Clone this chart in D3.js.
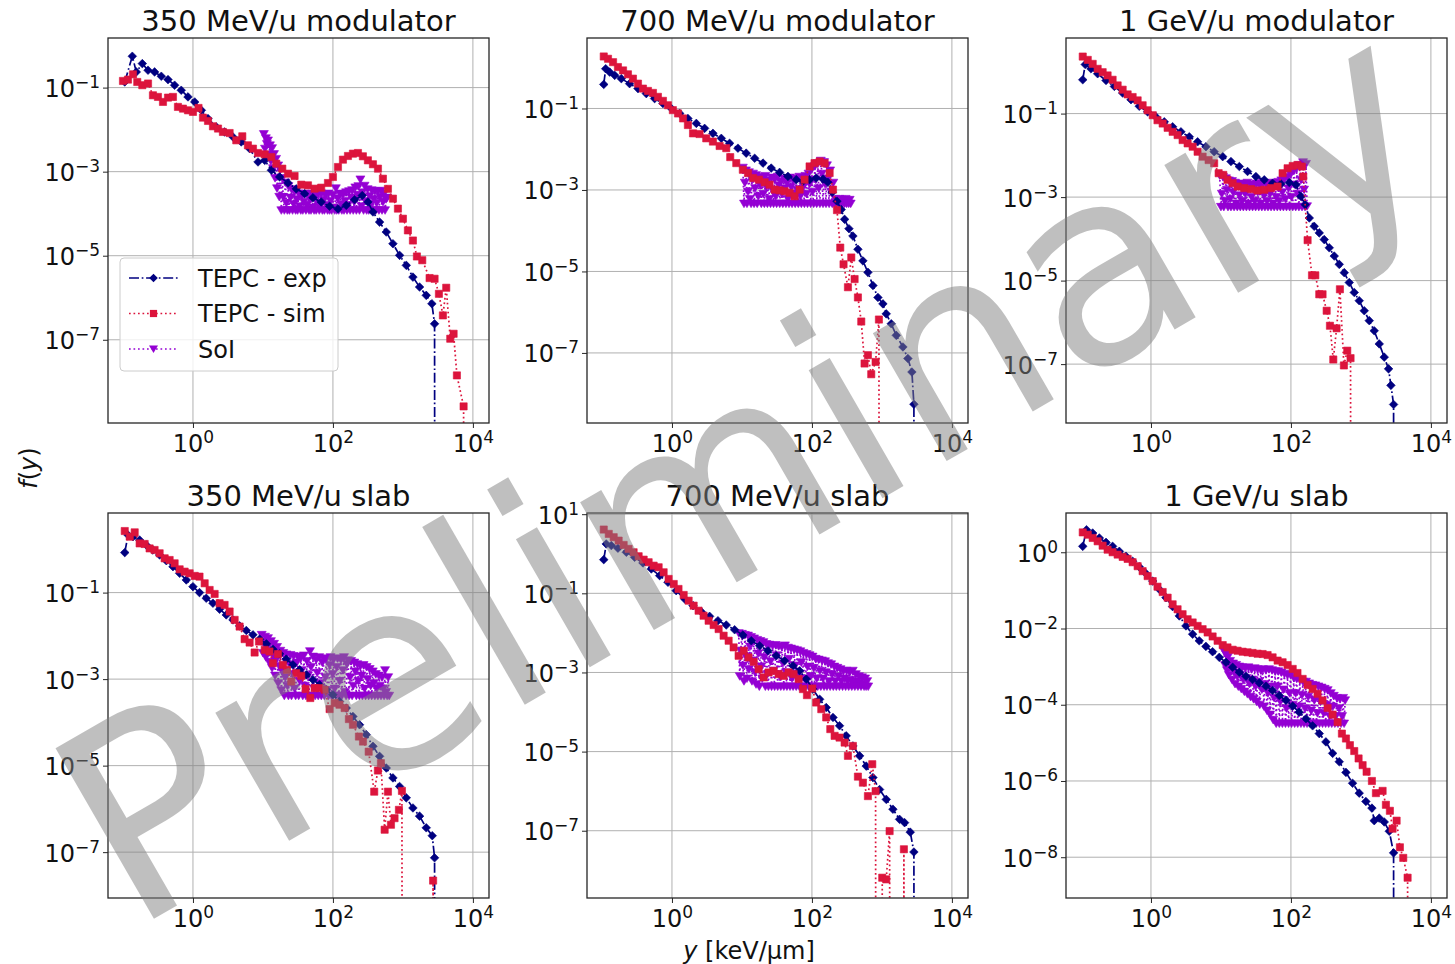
<!DOCTYPE html>
<html>
<head>
<meta charset="utf-8">
<script src="https://cdn.jsdelivr.net/npm/d3@7"></script>
<style>
body { margin: 0; background: #fff; }
text { font-family: "DejaVu Sans", sans-serif; }
</style>
</head>
<body>
<svg id="fig" width="1455" height="964"></svg>
<script>
// panel titles, legend names, ticks
var titles = ["350 MeV/u modulator", "700 MeV/u modulator", "1 GeV/u modulator",
              "350 MeV/u slab", "700 MeV/u slab", "1 GeV/u slab"];
var seriesNames = ["TEPC - exp", "TEPC - sim", "SoI"];
var xTickExp = [0, 2, 4];
var yTickExp = [[-7,-5,-3,-1], [-7,-5,-3,-1], [-7,-5,-3,-1], [-7,-5,-3,-1], [-7,-5,-3,-1,1], [-8,-6,-4,-2,0]];
var xLimExp = [-1.214, 4.23];
var yLimExp = [[-8.98,0.18], [-8.72,0.73], [-8.41,0.81], [-8.06,0.84], [-8.7,1.03], [-9.07,1.03]];

// TEPC measured spectra [y (keV/um), f(y)]
var exp350mod = [[0.106,0.136],[0.136,0.557],[0.155,0.236],[0.189,0.372],[0.228,0.259],[0.283,0.236],[0.353,0.186],[0.44,0.155],[0.547,0.114],[0.68,0.0865],[0.849,0.06],[1.06,0.0456],[1.32,0.0288],[1.64,0.0183],[2.15,0.0116],[2.83,0.0088],[3.73,0.0067],[4.9,0.0051],[6.45,0.00353],[8.5,0.0017],[10.6,0.00186],[13.2,0.00108],[17.3,7.5e-4],[22.8,5.4e-4],[29.9,3.9e-4],[39.4,3.0e-4],[51.8,2.4e-4],[68,1.9e-4],[89.6,1.5e-4],[118,1.3e-4],[155,1.58e-4],[204,2.15e-4],[262,2.7e-4],[316,1.9e-4],[373,1.1e-4],[464,6.3e-5],[578,3.66e-5],[720,1.93e-5],[896,1.02e-5],[1117,5.9e-6],[1390,3.1e-6],[1730,1.8e-6],[2154,1.14e-6],[2594,7.2e-7],[2833,2.4e-7],[2900,0]];
var exp700mod = [[0.106,0.39],[0.113,0.946],[0.129,0.78],[0.152,0.65],[0.189,0.54],[0.248,0.407],[0.327,0.308],[0.43,0.232],[0.565,0.175],[0.743,0.132],[0.98,0.1],[1.29,0.0755],[1.69,0.057],[2.23,0.043],[2.93,0.0325],[3.85,0.0245],[5.07,0.0185],[6.66,0.014],[8.77,0.0106],[11.5,0.008],[15.2,0.006],[20,0.00456],[26.2,0.00344],[34.5,0.0027],[45.4,0.00215],[59.7,0.00179],[74.4,0.00163],[92.6,0.00179],[115,0.00196],[144,0.00185],[169,0.00154],[195,8.8e-4],[228,5.3e-4],[262,3.3e-4],[293,1.9e-4],[338,1.12e-4],[385,7.4e-5],[454,3.5e-5],[535,1.82e-5],[631,9.5e-6],[744,4.5e-6],[877,2.3e-6],[1033,1.6e-6],[1153,9.1e-7],[1359,5.2e-7],[1603,2.7e-7],[1995,1.4e-7],[2350,7.3e-8],[2683,3.4e-8],[2864,5.5e-9],[2950,0]];
var exp1gmod = [[0.106,0.645],[0.115,1.5],[0.139,1.18],[0.173,0.9],[0.228,0.62],[0.3,0.448],[0.394,0.31],[0.518,0.215],[0.68,0.15],[0.896,0.11],[1.18,0.0833],[1.55,0.0634],[2.04,0.0482],[2.68,0.0366],[3.53,0.0278],[4.64,0.0211],[6.1,0.0161],[8.0,0.0122],[10.6,0.0093],[13.9,0.0071],[18.3,0.0054],[24,0.0041],[31.6,0.0031],[41.6,0.00259],[54.7,0.00215],[72,0.00207],[94.7,0.00223],[118,0.00197],[139,0.00104],[160,6.6e-4],[183,3.16e-4],[215,2.0e-4],[254,1.39e-4],[299,9.6e-5],[353,6.1e-5],[416,3.87e-5],[490,2.45e-5],[578,1.55e-5],[681,9.0e-6],[803,5.2e-6],[946,3.3e-6],[1116,1.9e-6],[1315,1.1e-6],[1549,6.3e-7],[1828,3.05e-7],[2154,1.47e-7],[2483,7.7e-8],[2683,3.1e-8],[2929,1.08e-8],[3000,0]];
var exp350slab = [[0.106,0.84],[0.118,2.14],[0.139,1.96],[0.173,1.64],[0.215,1.26],[0.268,0.966],[0.334,0.74],[0.416,0.547],[0.518,0.398],[0.645,0.279],[0.803,0.196],[1.0,0.137],[1.24,0.1],[1.55,0.074],[1.93,0.0568],[2.4,0.0412],[2.99,0.0305],[3.73,0.0234],[4.64,0.017],[5.78,0.0133],[7.2,0.01055],[8.96,0.0084],[11.2,0.00653],[13.9,0.00492],[17.3,0.00385],[21.5,0.0029],[26.8,0.00214],[33.4,0.00164],[41.6,0.00126],[51.8,9.7e-4],[64.5,7.4e-4],[80.4,5.7e-4],[100,4.35e-4],[124,3.05e-4],[155,2.14e-4],[193,1.37e-4],[240,8.8e-5],[299,5.2e-5],[373,2.8e-5],[464,1.64e-5],[578,8.8e-6],[720,5.2e-6],[896,3.3e-6],[1117,1.8e-6],[1390,1.05e-6],[1730,6.8e-7],[2154,3.65e-7],[2624,2.4e-7],[2833,7.4e-8],[2950,0]];
var exp700slab = [[0.106,0.71],[0.115,1.77],[0.136,1.61],[0.169,1.38],[0.223,1.09],[0.293,0.815],[0.385,0.586],[0.507,0.413],[0.667,0.28],[0.877,0.19],[1.15,0.117],[1.52,0.072],[2.0,0.0488],[2.62,0.0344],[3.45,0.0262],[4.54,0.0203],[5.97,0.0158],[7.86,0.012],[10.3,0.0088],[13.6,0.00634],[17.9,0.00473],[23.5,0.00354],[30.9,0.00264],[40.7,0.00197],[53.5,0.00148],[66.7,0.0011],[83,6.8e-4],[103,3.8e-4],[129,2.1e-4],[160,1.3e-4],[200,7.3e-5],[248,4.5e-5],[309,2.5e-5],[385,1.39e-5],[480,7.8e-6],[597,4.3e-6],[744,2.2e-6],[926,1.1e-6],[1153,6.2e-7],[1436,3.5e-7],[1786,1.94e-7],[2108,1.6e-7],[2541,9.2e-8],[2864,2.9e-8],[2950,0]];
var exp1gslab = [[0.106,1.43],[0.12,3.9],[0.147,3.19],[0.183,2.37],[0.228,1.82],[0.283,1.43],[0.353,1.06],[0.44,0.787],[0.547,0.582],[0.68,0.414],[0.849,0.277],[1.06,0.175],[1.32,0.106],[1.64,0.0644],[2.04,0.0375],[2.54,0.0214],[3.16,0.0117],[3.94,0.0071],[4.9,0.00476],[6.1,0.00339],[7.6,0.00246],[9.47,0.00175],[11.8,0.0013],[14.7,9.6e-4],[18.3,7.1e-4],[22.8,5.6e-4],[28.3,4.58e-4],[35.3,3.75e-4],[44,3.07e-4],[54.7,2.37e-4],[68,1.75e-4],[84.9,1.3e-4],[106,9.2e-5],[131,6.4e-5],[164,4.3e-5],[204,2.8e-5],[254,1.75e-5],[316,1.06e-5],[394,5.3e-6],[490,3.2e-6],[611,1.68e-6],[760,8.7e-7],[946,4.8e-7],[1178,2.9e-7],[1436,1.94e-7],[1549,9.1e-8],[1828,1.06e-7],[2154,8.4e-8],[2541,4.8e-8],[2929,1.3e-8],[3000,0]];

// TEPC simulated spectra
var sim350mod = [[0.1,0.144],[0.118,0.155],[0.139,0.207],[0.16,0.136],[0.189,0.114],[0.228,0.125],[0.268,0.0656],[0.316,0.06],[0.373,0.0456],[0.44,0.0578],[0.518,0.06],[0.61,0.0347],[0.72,0.0316],[0.849,0.0288],[1.0,0.0264],[1.2,0.0328],[1.39,0.0193],[1.64,0.0161],[1.93,0.012],[2.28,0.0106],[2.68,0.0088],[3.34,0.0083],[4.16,0.00557],[5.07,0.00694],[6.1,0.00424],[7.2,0.00353],[8.5,0.00278],[10.6,0.00259],[13.2,0.00223],[15.5,0.00155],[18.9,0.00118],[22.8,8.95e-4],[28.3,7.9e-4],[35.3,4.9e-4],[44,4.73e-4],[54.7,3.94e-4],[68,4.16e-4],[84.9,5.37e-4],[100,7.46e-4],[118,0.00129],[139,0.00193],[164,0.00236],[193,0.00268],[228,0.00278],[268,0.00232],[316,0.00186],[373,0.0015],[440,0.00118],[518,6.8e-4],[611,3.9e-4],[720,2.28e-4],[849,1.32e-4],[1000,7.6e-5],[1178,4.0e-5],[1390,2.3e-5],[1585,9.6e-6],[1890,7.8e-6],[2404,2.94e-6],[2833,2.83e-6],[3269,1.24e-6],[3727,3.8e-7],[4159,1.73e-6],[4747,1.06e-7],[5297,1.39e-7],[5907,1.42e-8],[7362,2.6e-9],[7700,0]];
var sim700mod = [[0.106,1.89],[0.122,1.66],[0.144,1.37],[0.169,1.04],[0.2,0.86],[0.235,0.69],[0.277,0.54],[0.327,0.407],[0.385,0.308],[0.454,0.27],[0.535,0.241],[0.63,0.193],[0.743,0.154],[0.877,0.12],[1.03,0.091],[1.22,0.0755],[1.44,0.057],[1.69,0.0392],[2.0,0.0245],[2.48,0.0236],[3.09,0.0185],[3.85,0.0154],[4.8,0.012],[5.97,0.0106],[6.8,0.0064],[8.3,0.00456],[10.3,0.00313],[12.2,0.0026],[14.4,0.00196],[17.5,0.00179],[21.1,0.00154],[24.8,0.00135],[29.3,0.00102],[34.5,9.8e-4],[40.7,9.3e-4],[48,8.5e-4],[56.5,7.0e-4],[66.7,0.00102],[78.5,0.00179],[92.6,0.00378],[109,0.00456],[129,0.005],[152,0.00456],[179,0.0026],[200,0.00102],[228,3.2e-4],[254,3.85e-5],[283,1.5e-5],[327,4.1e-6],[365,2.2e-5],[407,6.5e-6],[454,2.3e-6],[507,5.9e-7],[565,5.5e-8],[631,8.8e-8],[704,3.0e-8],[812,6.0e-8],[906,6.6e-7],[933,0]];
var sim1gmod = [[0.106,2.32],[0.125,1.93],[0.147,1.55],[0.173,1.18],[0.204,0.98],[0.24,0.82],[0.283,0.645],[0.334,0.473],[0.394,0.373],[0.464,0.288],[0.547,0.249],[0.645,0.207],[0.76,0.158],[0.896,0.12],[1.06,0.0913],[1.24,0.0693],[1.47,0.0578],[1.73,0.0456],[2.04,0.0366],[2.4,0.0305],[2.83,0.0232],[3.34,0.0193],[3.94,0.0161],[4.64,0.0122],[5.47,0.0093],[6.66,0.0077],[8.0,0.00645],[9.27,0.00373],[10.8,0.0034],[12.4,0.00259],[14.7,0.00215],[17.3,0.00179],[21.5,0.00164],[26.8,0.00155],[33.4,0.00144],[41.6,0.0015],[51.8,0.00164],[64.5,0.00179],[76,0.00373],[89.6,0.0049],[106,0.00557],[124,0.00589],[144,0.0054],[150,0.0031],[173,9.3e-5],[200,1.34e-5],[223,1.34e-5],[254,4.7e-6],[283,4.7e-6],[324,1.9e-6],[361,8.3e-7],[403,1.29e-7],[449,7.2e-7],[501,6.2e-6],[571,9.3e-8],[638,2.1e-7],[711,1.39e-7],[730,0]];
var sim350slab = [[0.106,2.65],[0.125,1.96],[0.147,2.47],[0.173,1.37],[0.204,1.33],[0.24,1.05],[0.283,0.966],[0.334,0.81],[0.394,0.62],[0.464,0.567],[0.547,0.475],[0.645,0.345],[0.76,0.305],[0.896,0.279],[1.06,0.243],[1.24,0.234],[1.47,0.164],[1.73,0.115],[2.04,0.093],[2.4,0.0568],[2.83,0.0519],[3.34,0.0365],[3.94,0.0234],[4.64,0.0164],[5.47,0.0084],[6.45,0.007],[7.6,0.00412],[8.77,0.0074],[10.6,0.00475],[12.4,0.00435],[13.9,0.00234],[16.4,0.00378],[19.3,0.00214],[22,0.00164],[25.4,8.8e-4],[29.9,0.00137],[35.3,0.00119],[40.7,5.9e-4],[47.5,3.65e-4],[54.7,6.2e-4],[64.5,6.2e-4],[76,5.7e-4],[89.6,2.03e-4],[106,2.8e-4],[124,2.56e-4],[147,2.14e-4],[169,1.19e-4],[193,8.8e-5],[235,4.7e-5],[269,3.6e-5],[324,2.1e-5],[389,2.5e-6],[439,7.7e-6],[485,1.14e-5],[548,3.3e-7],[611,2.5e-6],[675,4.3e-7],[759,6.1e-7],[877,9.5e-7],[968,2.6e-6],[1000,0],[2600,0],[2700,2.2e-8],[2800,0]];
var sim700slab = [[0.106,4.09],[0.125,3.18],[0.147,2.62],[0.173,2.15],[0.204,1.67],[0.24,1.33],[0.283,1.09],[0.334,0.865],[0.394,0.71],[0.464,0.61],[0.547,0.5],[0.645,0.455],[0.76,0.34],[0.896,0.231],[1.06,0.172],[1.24,0.129],[1.47,0.0908],[1.73,0.0652],[2.04,0.0488],[2.4,0.0364],[2.83,0.0272],[3.34,0.0203],[3.94,0.0158],[4.64,0.0125],[5.47,0.0085],[6.45,0.00634],[7.6,0.0043],[8.96,0.00264],[10.6,0.00354],[12.4,0.0024],[14.7,0.00186],[17.3,0.00121],[20.4,7.5e-4],[24,0.001],[28.3,0.0011],[33.4,9.1e-4],[39.4,8.2e-4],[46.4,0.001],[54.7,9.1e-4],[64.5,6.8e-4],[74.4,3.8e-4],[84.9,2.67e-4],[101,3.93e-4],[115,1.74e-4],[136,1.18e-4],[160,7.3e-5],[183,3.7e-5],[211,2.5e-5],[248,2.26e-5],[293,1.69e-5],[327,7.8e-6],[385,1.39e-5],[454,2.33e-6],[535,1.64e-6],[631,7.5e-7],[728,4.8e-6],[812,1.0e-6],[830,0],[990,0],[1011,6.5e-9],[1153,5.9e-9],[1288,9.8e-8],[1330,0],[2000,0],[2061,3.4e-8],[2150,0]];
var sim1gslab = [[0.106,3.32],[0.125,2.89],[0.147,2.37],[0.173,1.94],[0.204,1.49],[0.24,1.17],[0.283,1.0],[0.334,0.869],[0.394,0.755],[0.464,0.67],[0.547,0.548],[0.645,0.431],[0.76,0.319],[0.896,0.237],[1.06,0.175],[1.24,0.125],[1.47,0.0905],[1.73,0.0644],[2.04,0.0431],[2.4,0.0319],[2.83,0.0237],[3.34,0.0175],[3.94,0.0144],[4.64,0.0117],[5.47,0.0096],[6.45,0.00787],[7.6,0.00618],[8.96,0.00476],[10.6,0.00367],[12.4,0.00319],[14.7,0.00277],[17.3,0.00261],[20.4,0.00246],[24,0.00237],[28.3,0.00228],[33.4,0.00218],[39.4,0.00214],[46.4,0.00201],[54.7,0.00175],[64.5,0.00144],[76,0.0013],[89.6,0.0011],[106,8.7e-4],[124,6.8e-4],[147,4.76e-4],[173,3.3e-4],[204,2.6e-4],[240,1.94e-4],[283,1.3e-4],[334,8.2e-5],[394,5.5e-5],[464,3.5e-5],[535,1.75e-5],[611,1.3e-5],[696,8.7e-6],[803,6.1e-6],[926,3.9e-6],[1057,2.6e-6],[1205,1.75e-6],[1436,1.0e-6],[1638,4.8e-7],[2040,5.5e-7],[2275,2.37e-7],[2594,1.65e-7],[2833,5.6e-8],[3236,9.1e-8],[3606,1.82e-8],[4027,9.6e-9],[4645,2.9e-9],[4800,0]];

// SoI bins (keV/um) and f(y) per bin, null = no entry
var soiBins = [9,9.3,9.6,10,10.3,10.7,11,11.4,11.8,12.2,
  12.6,13,13.5,13.9,14.4,14.9,15.4,15.9,16.5,17.1,
  17.7,18.3,18.9,19.5,20.2,20.9,21.6,22.3,23.1,23.9,
  24.7,25.6,26.5,27.4,28.3,29.3,30.3,31.3,32.4,33.5,
  34.7,35.9,37.1,38.4,39.7,41.1,42.5,43.9,45.5,47,
  48.6,50.3,52,53.8,55.7,57.6,59.6,61.6,63.8,66,
  68.2,70.6,73,75.5,78.1,80.8,83.6,86.4,89.4,92.5,
  95.7,99,102,106,110,113,117,121,125,130,
  134,139,144,149,154,159,164,170,176,182,
  188,195,202,209,216,223,231,239,247,256,
  264,274,283,293,303,313,324,335,346,358,
  371,383,397,410,424,439,454,470,486,503,
  520,538,556,575,595,616,637];
var soi350mod = [null,null,null,null,0.0078,0.0035,0.0062,0.0045,0.0055,0.0025,
  0.0042,0.0018,0.0036,0.0012,0.0026,7e-4,0.002,4e-4,0.0014,2.5e-4,
  0.0011,1.2e-4,7e-4,2.5e-4,1.2e-4,5.5e-4,1.8e-4,1.2e-4,4.5e-4,1.2e-4,
  2.4e-4,3.8e-4,1.2e-4,1.7e-4,3.3e-4,1.2e-4,2.2e-4,1.2e-4,3e-4,1.5e-4,
  1.2e-4,2.6e-4,1.2e-4,1.9e-4,3e-4,1.2e-4,1.6e-4,2.8e-4,1.2e-4,2.2e-4,
  1.2e-4,3e-4,1.4e-4,1.2e-4,2.5e-4,1.2e-4,1.8e-4,2.9e-4,1.2e-4,1.5e-4,
  3e-4,1.2e-4,2.1e-4,1.2e-4,2.7e-4,1.6e-4,1.2e-4,3e-4,1.2e-4,2e-4,
  1.2e-4,2.8e-4,1.4e-4,1.2e-4,4e-4,1.2e-4,2.3e-4,1.2e-4,3e-4,1.7e-4,
  1.2e-4,2.8e-4,1.2e-4,2e-4,3.2e-4,1.2e-4,1.6e-4,3.4e-4,1.2e-4,2.4e-4,
  3.6e-4,1.2e-4,1.9e-4,4.2e-4,1.2e-4,2.8e-4,4.5e-4,1.2e-4,6.5e-4,1.5e-4,
  3.2e-4,1.2e-4,4.6e-4,2e-4,1.2e-4,3.8e-4,1.2e-4,2.6e-4,1.6e-4,3.6e-4,
  1.2e-4,2.2e-4,3.4e-4,1.2e-4,1.8e-4,3.4e-4,1.2e-4,2.5e-4,3.5e-4,1.2e-4,
  1.9e-4,3e-4,1.2e-4,2.2e-4,2.4e-4,null,null];
var soi700mod = [null,null,null,null,0.0035,4.6e-4,0.0015,0.003,4.6e-4,9e-4,
  0.0027,6e-4,4.6e-4,0.0018,0.0025,4.6e-4,0.0011,0.0023,4.6e-4,7e-4,
  0.0021,0.0013,4.6e-4,0.0019,8e-4,4.6e-4,0.0022,0.0012,4.6e-4,0.0017,
  6e-4,4.6e-4,0.002,0.001,4.6e-4,0.0018,7e-4,4.6e-4,0.0021,0.0013,
  4.6e-4,0.0016,8e-4,4.6e-4,0.0019,0.0011,4.6e-4,0.0015,6e-4,4.6e-4,
  0.002,0.0012,4.6e-4,0.0017,8e-4,4.6e-4,0.0019,0.001,4.6e-4,0.0021,
  7e-4,4.6e-4,0.0019,0.0012,4.6e-4,0.0022,8e-4,4.6e-4,0.0025,0.0014,
  4.6e-4,0.0032,9e-4,4.6e-4,0.0038,0.0018,4.6e-4,0.0045,0.0011,4.6e-4,
  0.0052,0.0025,4.6e-4,0.0048,0.0014,4.6e-4,0.004,0.0019,4.6e-4,0.003,
  9e-4,4.6e-4,0.0015,4.6e-4,6e-4,4.6e-4,5.5e-4,4.6e-4,6e-4,4.6e-4,
  5.8e-4,4.6e-4,5.5e-4,4.6e-4,6e-4,4.6e-4,5.5e-4,4.6e-4,5.7e-4,4.6e-4,
  null,null,null,null,null,null,null,null,null,null,
  null,null,null,null,null,null,null];
var soi1gmod = [null,null,0.0033,5.8e-4,0.0012,0.003,5.8e-4,8e-4,0.0028,0.0015,
  5.8e-4,0.0025,9e-4,5.8e-4,0.0024,0.0013,5.8e-4,0.0022,7e-4,5.8e-4,
  0.002,0.0011,5.8e-4,0.0021,8e-4,5.8e-4,0.0019,0.0012,5.8e-4,0.0022,
  7e-4,5.8e-4,0.002,0.001,5.8e-4,0.0018,8e-4,5.8e-4,0.0021,0.0013,
  5.8e-4,0.0019,7e-4,5.8e-4,0.0022,0.0011,5.8e-4,0.002,8e-4,5.8e-4,
  0.0019,0.0012,5.8e-4,0.0022,7e-4,5.8e-4,0.0021,0.001,5.8e-4,0.0023,
  8e-4,5.8e-4,0.0025,0.0013,5.8e-4,0.0027,9e-4,5.8e-4,0.003,0.0016,
  5.8e-4,0.0035,0.001,5.8e-4,0.0042,0.002,5.8e-4,0.005,0.0012,5.8e-4,
  0.0058,0.0026,5.8e-4,0.0068,0.0015,5.8e-4,0.0062,6e-4,null,null,
  null,null,null,null,null,null,null,null,null,null,
  null,null,null,null,null,null,null,null,null,null,
  null,null,null,null,null,null,null,null,null,null,
  null,null,null,null,null,null,null];
var soi350slab = [null,null,0.0105,0.004,0.0068,0.0095,0.0032,0.0055,0.0088,0.0025,
  0.0045,0.0075,0.0018,0.0035,0.0065,0.0012,0.0028,0.0055,8e-4,0.002,
  0.0045,5.5e-4,0.0015,0.004,4.1e-4,0.0011,0.0037,7e-4,4.1e-4,0.0022,
  0.0036,4.1e-4,0.0013,0.0034,6e-4,4.1e-4,0.0024,0.0033,4.1e-4,9e-4,
  0.003,0.0016,4.1e-4,0.0035,7e-4,4.1e-4,0.0026,0.0012,4.1e-4,0.0044,
  0.0019,4.1e-4,0.0033,6e-4,4.1e-4,0.0028,0.0014,4.1e-4,0.0032,8e-4,
  4.1e-4,0.0024,0.003,4.1e-4,0.0011,0.0029,5.5e-4,4.1e-4,0.0021,0.0032,
  4.1e-4,0.0013,0.0028,6e-4,4.1e-4,0.0019,0.003,4.1e-4,9e-4,0.0028,
  4.1e-4,0.0016,0.0032,5e-4,4.1e-4,0.0022,0.0027,4.1e-4,0.0011,0.0026,
  4.1e-4,7e-4,0.0024,0.0015,4.1e-4,0.0022,9e-4,4.1e-4,0.002,0.0012,
  4.1e-4,0.0021,6e-4,4.1e-4,0.0019,0.001,4.1e-4,0.0017,7e-4,4.1e-4,
  0.0015,8e-4,4.1e-4,0.0013,6e-4,4.1e-4,0.0012,7e-4,4.1e-4,0.0011,
  6e-4,4.1e-4,0.0016,5e-4,4.1e-4,0.0011,4.1e-4];
var soi700slab = [0.0098,8e-4,0.0035,0.0094,0.0015,6e-4,0.0088,0.0025,7e-4,0.0085,
  0.0012,0.0045,0.0078,6e-4,0.002,0.0072,0.001,5e-4,0.0066,0.003,
  4.4e-4,0.0062,0.0014,7e-4,0.0058,0.0024,4.4e-4,0.0052,9e-4,4.4e-4,
  0.005,0.0019,4.4e-4,0.0047,0.0011,4.4e-4,0.0049,0.0027,4.4e-4,0.0046,
  8e-4,4.4e-4,0.0044,0.0017,4.4e-4,0.0048,0.001,4.4e-4,0.0042,0.0022,
  4.4e-4,0.004,7e-4,4.4e-4,0.0038,0.0015,4.4e-4,0.0036,9e-4,4.4e-4,
  0.0034,0.0018,4.4e-4,0.0031,7e-4,4.4e-4,0.0029,0.0014,4.4e-4,0.0027,
  8e-4,4.4e-4,0.0025,0.0013,4.4e-4,0.0022,7e-4,4.4e-4,0.0021,0.0011,
  4.4e-4,0.002,7e-4,4.4e-4,0.0019,0.001,4.4e-4,0.0017,6e-4,4.4e-4,
  0.0016,9e-4,4.4e-4,0.0014,6e-4,4.4e-4,0.0013,8e-4,4.4e-4,0.0012,
  6e-4,4.4e-4,0.0011,7e-4,4.4e-4,0.0011,6e-4,4.4e-4,0.001,6.5e-4,
  4.4e-4,0.0011,5.5e-4,4.4e-4,9e-4,6e-4,4.4e-4,8e-4,5.5e-4,4.4e-4,
  7.5e-4,5e-4,4.4e-4,7e-4,4.4e-4,6e-4,4.4e-4];
var soi1gslab = [null,null,null,null,null,null,0.0026,0.0011,0.0021,8e-4,
  0.0018,6e-4,0.0014,0.001,4.5e-4,0.0012,7e-4,3.5e-4,0.0011,5.5e-4,
  3e-4,0.001,6e-4,2.6e-4,9.5e-4,4.5e-4,2.2e-4,9e-4,5e-4,1.9e-4,
  9.5e-4,3.5e-4,1.6e-4,8.5e-4,4.5e-4,1.4e-4,9e-4,3e-4,1.2e-4,8.5e-4,
  4e-4,1e-4,8e-4,2.5e-4,8.5e-4,9e-5,3.5e-4,8e-4,7e-5,2e-4,
  8.5e-4,5.5e-5,3e-4,8e-4,4e-5,1.5e-4,7.5e-4,3.2e-5,3e-4,7.5e-4,
  3.2e-5,1.2e-4,7e-4,3.2e-5,2.5e-4,6.5e-4,3.2e-5,8e-5,6e-4,3.2e-5,
  2e-4,6e-4,3.2e-5,1e-4,5e-4,3.2e-5,2e-4,4.8e-4,3.2e-5,9e-5,
  4.5e-4,3.2e-5,1.8e-4,4e-4,3.2e-5,8e-5,4e-4,3.2e-5,1.6e-4,3.6e-4,
  3.2e-5,7e-5,3.3e-4,3.2e-5,1.3e-4,3.2e-4,3.2e-5,6e-5,3e-4,3.2e-5,
  1.2e-4,2.8e-4,3.2e-5,6e-5,2.6e-4,3.2e-5,1e-4,2.4e-4,3.2e-5,5e-5,
  2e-4,3.2e-5,9e-5,1.7e-4,3.2e-5,5e-5,1.5e-4,3.2e-5,8e-5,1.4e-4,
  3.2e-5,5e-5,1.5e-4,3.2e-5,1.3e-4,null,null];

var expData = [exp350mod, exp700mod, exp1gmod, exp350slab, exp700slab, exp1gslab];
var simData = [sim350mod, sim700mod, sim1gmod, sim350slab, sim700slab, sim1gslab];
var soiData = [soi350mod, soi700mod, soi1gmod, soi350slab, soi700slab, soi1gslab];

// layout
var colLeft = [108, 587, 1066], rowTop = [38, 513];
var pw = 381, ph = 385;
var lw = 1.7;

var styles = [
  {color: "#000080", dash: "10,2.7,1.7,2.7", shape: "M0,-4.3L4.3,0L0,4.3L-4.3,0Z"},
  {color: "#DC143C", dash: "1.7,2.8", shape: "M-3.6,-3.6L3.6,-3.6L3.6,3.6L-3.6,3.6Z"},
  {color: "#9400D3", dash: "1.7,2.8", shape: "M-4.5,-3.6L4.5,-3.6L0,4Z"}
];

var svg = d3.select("#fig");

var x = d3.scaleLog().domain(xLimExp.map(function(e){ return Math.pow(10, e); })).range([0, pw]);

function supLabel(sel, e) {
  sel.text("10");
  sel.append("tspan").attr("dy", -9).attr("font-size", 17).text(e < 0 ? "\u2212" + (-e) : String(e));
}

function drawSeries(g, pts, st, y) {
  var yv = function(v){ return v > 0 ? v : 1e-30; };
  var line = d3.line().x(function(d){ return x(d[0]); }).y(function(d){ return y(yv(d[1])); });
  g.append("path").datum(pts)
    .attr("d", line)
    .attr("fill", "none")
    .attr("stroke", st.color)
    .attr("stroke-width", lw)
    .attr("stroke-dasharray", st.dash);
  g.selectAll(null).data(pts.filter(function(d){ return d[1] > 0; })).join("path")
    .attr("d", st.shape)
    .attr("fill", st.color)
    .attr("stroke", st.color)
    .attr("stroke-width", 0.6)
    .attr("transform", function(d){ return "translate(" + x(d[0]) + "," + y(d[1]) + ")"; });
}

titles.forEach(function(title, i) {
  var col = i % 3, row = Math.floor(i / 3);
  var g = svg.append("g").attr("transform", "translate(" + colLeft[col] + "," + rowTop[row] + ")");
  var y = d3.scaleLog().domain([Math.pow(10, yLimExp[i][0]), Math.pow(10, yLimExp[i][1])]).range([ph, 0]);

  g.append("clipPath").attr("id", "clip" + i)
    .append("rect").attr("width", pw).attr("height", ph);

  // grid
  var grid = g.append("g").attr("stroke", "#b0b0b0").attr("stroke-width", 1);
  xTickExp.forEach(function(e){
    var px = x(Math.pow(10, e));
    if (px >= 0 && px <= pw) grid.append("line").attr("x1", px).attr("x2", px).attr("y1", 0).attr("y2", ph);
  });
  yTickExp[i].forEach(function(e){
    var py = y(Math.pow(10, e));
    grid.append("line").attr("x1", 0).attr("x2", pw).attr("y1", py).attr("y2", py);
  });

  // data
  var plot = g.append("g").attr("clip-path", "url(#clip" + i + ")");
  var soiPts = [];
  soiBins.forEach(function(b, k){ if (soiData[i][k] != null) soiPts.push([b, soiData[i][k]]); });
  drawSeries(plot, soiPts, styles[2], y);
  drawSeries(plot, expData[i], styles[0], y);
  drawSeries(plot, simData[i], styles[1], y);

  // frame
  g.append("rect").attr("width", pw).attr("height", ph)
    .attr("fill", "none").attr("stroke", "#262626").attr("stroke-width", 1.3);

  // axes
  var xa = g.append("g").attr("transform", "translate(0," + ph + ")")
    .call(d3.axisBottom(x).tickValues(xTickExp.map(function(e){ return Math.pow(10, e); }))
      .tickSize(5).tickFormat(function(){ return ""; }));
  xa.select(".domain").remove();
  xa.attr("font-size", 24).attr("font-family", "DejaVu Sans").attr("color", "#262626");
  xa.selectAll(".tick text").attr("y", 29).attr("dy", null).attr("fill", "#111")
    .each(function(d){ supLabel(d3.select(this), Math.round(Math.log10(d))); });

  var ya = g.append("g")
    .call(d3.axisLeft(y).tickValues(yTickExp[i].map(function(e){ return Math.pow(10, e); }))
      .tickSize(5).tickFormat(function(){ return ""; }));
  ya.select(".domain").remove();
  ya.attr("font-size", 24).attr("font-family", "DejaVu Sans").attr("color", "#262626");
  ya.selectAll(".tick text").attr("x", -8).attr("dy", null).attr("y", 9).attr("fill", "#111")
    .each(function(d){ supLabel(d3.select(this), Math.round(Math.log10(d))); });

  // title
  g.append("text").attr("x", pw / 2).attr("y", -7)
    .attr("text-anchor", "middle").attr("font-size", 29).attr("fill", "#111")
    .text(title);

  // legend in first panel
  if (i === 0) {
    var lg = g.append("g").attr("transform", "translate(12,220)");
    lg.append("rect").attr("width", 218).attr("height", 113).attr("rx", 4)
      .attr("fill", "#fff").attr("fill-opacity", 0.8)
      .attr("stroke", "#cccccc").attr("stroke-width", 1);
    seriesNames.forEach(function(name, k){
      var cy = 20 + k * 35.5;
      var st = styles[k];
      lg.append("line").attr("x1", 9).attr("x2", 58).attr("y1", cy).attr("y2", cy)
        .attr("stroke", st.color).attr("stroke-width", lw).attr("stroke-dasharray", st.dash);
      lg.append("path").attr("d", st.shape).attr("fill", st.color)
        .attr("transform", "translate(33.5," + cy + ")");
      lg.append("text").attr("x", 78).attr("y", cy + 8.5).attr("font-size", 24).attr("fill", "#111").text(name);
    });
  }
});

// shared axis labels
var yl = svg.append("text").attr("transform", "translate(37,468) rotate(-90)")
  .attr("text-anchor", "middle").attr("font-size", 24).attr("fill", "#111");
yl.append("tspan").attr("font-style", "italic").text("f");
yl.append("tspan").text("(");
yl.append("tspan").attr("font-style", "italic").text("y");
yl.append("tspan").text(")");

var xl = svg.append("text").attr("x", 749).attr("y", 959)
  .attr("text-anchor", "middle").attr("font-size", 24).attr("fill", "#111");
xl.append("tspan").attr("font-style", "italic").text("y");
xl.append("tspan").text(" [keV/\u03bcm]");

// watermark
svg.append("text").attr("transform", "translate(131,932) rotate(-30)")
  .attr("font-size", 270).attr("fill", "#808080").attr("fill-opacity", 0.5)
  .text("Preliminary");
</script>
</body>
</html>
